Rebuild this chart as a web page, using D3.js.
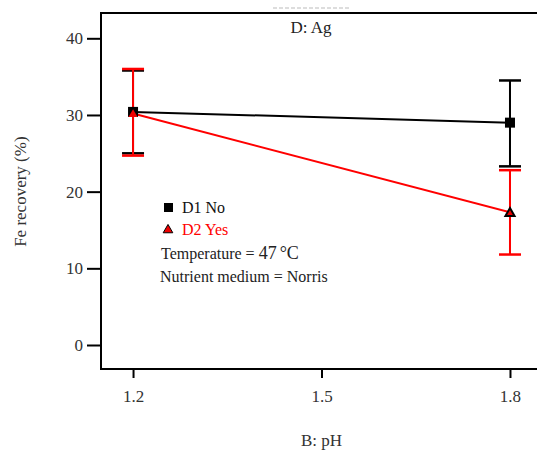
<!DOCTYPE html>
<html>
<head>
<meta charset="utf-8">
<script src="https://cdn.jsdelivr.net/npm/d3@7"></script>
<style>
  body { margin: 0; background: #fff; }
  svg, svg text { font-family: "Liberation Serif", "DejaVu Serif" !important; }
</style>
</head>
<body>
<script>
const w = 537; // width
const h = 453; // height
const serif = "Liberation Serif";

// data
const phLevels = [1.2, 1.8];
const d1Mean = [30.4, 29.0];
const d1Low = [25.0, 23.3];
const d1High = [35.8, 34.5];
const d2Mean = [30.2, 17.3];
const d2Low = [24.7, 11.8];
const d2High = [36.0, 22.8];
const xTicks = [1.2, 1.5, 1.8];
const yTicks = [0, 10, 20, 30, 40];

const pLeft = 101, pTop = 13, pRight = 537, pBottom = 369;

let svg = d3.select("body")
    .append("svg")
    .attr('width', w)
    .attr('height', h)
    .attr("font-family", serif);

// scales
let x = d3.scaleLinear()
    .domain([1.149, 1.843])
    .range([pLeft, pRight]);

let y = d3.scaleLinear()
    .domain([-3.13, 43.3])
    .range([pBottom, pTop]);

// faint cut-off text at the top
svg.append("line")
    .attr("x1", 273).attr("x2", 351)
    .attr("y1", 8).attr("y2", 8)
    .attr("stroke", "#ddd")
    .attr("stroke-width", 2)
    .attr("stroke-dasharray", "4,2");

// frame
svg.append("path")
    .attr("d", `M${pRight + 2},${pTop} H${pLeft} V${pBottom} H${pRight + 2}`)
    .attr("fill", "none")
    .attr("stroke", "#000")
    .attr("stroke-width", 2);

// y axis
let gY = svg.append("g")
    .attr('transform', `translate(${pLeft}, 0)`)
    .call(d3.axisLeft(y).tickValues(yTicks).tickSize(14).tickPadding(4));
gY.attr("font-family", serif);
gY.select(".domain").remove();
gY.selectAll(".tick line").attr("stroke-width", 2);
gY.selectAll(".tick text")
    .attr("font-size", 17)
    .attr("fill", "#333");

// x axis
let gX = svg.append("g")
    .attr('transform', `translate(0,${pBottom})`)
    .call(d3.axisBottom(x).tickValues(xTicks).tickFormat(d3.format(".1f")).tickSize(9).tickPadding(12));
gX.attr("font-family", serif);
gX.select(".domain").remove();
gX.selectAll(".tick line").attr("stroke-width", 2);
gX.selectAll(".tick text")
    .attr("font-size", 17)
    .attr("fill", "#333");

// axis labels
svg.append("text")
    .attr("text-anchor", "middle")
    .attr("x", x(1.5))
    .attr("y", 446)
    .attr("font-size", 17)
    .attr("fill", "#333")
    .text("B: pH");

svg.append("text")
    .attr("text-anchor", "middle")
    .attr("transform", `translate(26,${y(20)}) rotate(-90)`)
    .attr("font-size", 17)
    .attr("fill", "#333")
    .text("Fe recovery (%)");

// title
svg.append("text")
    .attr("text-anchor", "middle")
    .attr("x", 311)
    .attr("y", 33)
    .attr("font-size", 17)
    .attr("fill", "#222")
    .text("D: Ag");

const capHalf = 11;

function drawErrors(low, high, color) {
    let g = svg.append("g").attr("stroke", color).attr("stroke-width", 2);
    phLevels.forEach((ph, i) => {
        let cx = x(ph);
        g.append("line").attr("x1", cx).attr("x2", cx).attr("y1", y(low[i])).attr("y2", y(high[i]));
        g.append("line").attr("x1", cx - capHalf).attr("x2", cx + capHalf).attr("y1", y(low[i])).attr("y2", y(low[i])).attr("stroke-width", 2.5);
        g.append("line").attr("x1", cx - capHalf).attr("x2", cx + capHalf).attr("y1", y(high[i])).attr("y2", y(high[i])).attr("stroke-width", 2.5);
    });
}

let line = d3.line()
    .x((d, i) => x(phLevels[i]))
    .y((d) => y(d));

// D1 (black)
drawErrors(d1Low, d1High, "#000");
// D2 (red)
drawErrors(d2Low, d2High, "#f00");

svg.append("path")
    .datum(d1Mean)
    .attr("d", line)
    .attr("fill", "none")
    .attr("stroke", "#000")
    .attr("stroke-width", 2);

svg.append("path")
    .datum(d2Mean)
    .attr("d", line)
    .attr("fill", "none")
    .attr("stroke", "#f00")
    .attr("stroke-width", 2);

let tri = d3.symbol().type(d3.symbolTriangle).size(36);

svg.selectAll(".d1pt")
    .data(d1Mean)
    .enter()
    .append("rect")
    .attr("x", (d, i) => x(phLevels[i]) - 5)
    .attr("y", (d) => y(d) - 5)
    .attr("width", 10)
    .attr("height", 10)
    .attr("fill", "#000");

svg.selectAll(".d2pt")
    .data(d2Mean)
    .enter()
    .append("path")
    .attr("d", tri)
    .attr("transform", (d, i) => `translate(${x(phLevels[i])},${y(d) + 1})`)
    .attr("fill", "#e00")
    .attr("stroke", "#000")
    .attr("stroke-width", (d, i) => i === 0 ? 0 : 2);

// legend
svg.append("rect")
    .attr("x", 164).attr("y", 203)
    .attr("width", 9).attr("height", 9)
    .attr("fill", "#000");
svg.append("text")
    .attr("x", 182).attr("y", 213)
    .attr("font-size", 16)
    .attr("fill", "#111")
    .text("D1 No");

svg.append("path")
    .attr("d", d3.symbol().type(d3.symbolTriangle).size(40))
    .attr("transform", "translate(168,230)")
    .attr("fill", "#e00")
    .attr("stroke", "#000")
    .attr("stroke-width", 1);
svg.append("text")
    .attr("x", 182).attr("y", 235)
    .attr("font-size", 16)
    .attr("fill", "#f00")
    .text("D2 Yes");

let temp = svg.append("text")
    .attr("x", 161).attr("y", 259)
    .attr("font-size", 16)
    .attr("fill", "#222");
temp.append("tspan").text("Temperature = ");
temp.append("tspan").attr("font-size", 18).text("47");
temp.append("tspan").attr("font-size", 18).attr("dx", 3).text("°C");

svg.append("text")
    .attr("x", 160).attr("y", 282)
    .attr("font-size", 16)
    .attr("fill", "#222")
    .text("Nutrient medium = Norris");
</script>
</body>
</html>
